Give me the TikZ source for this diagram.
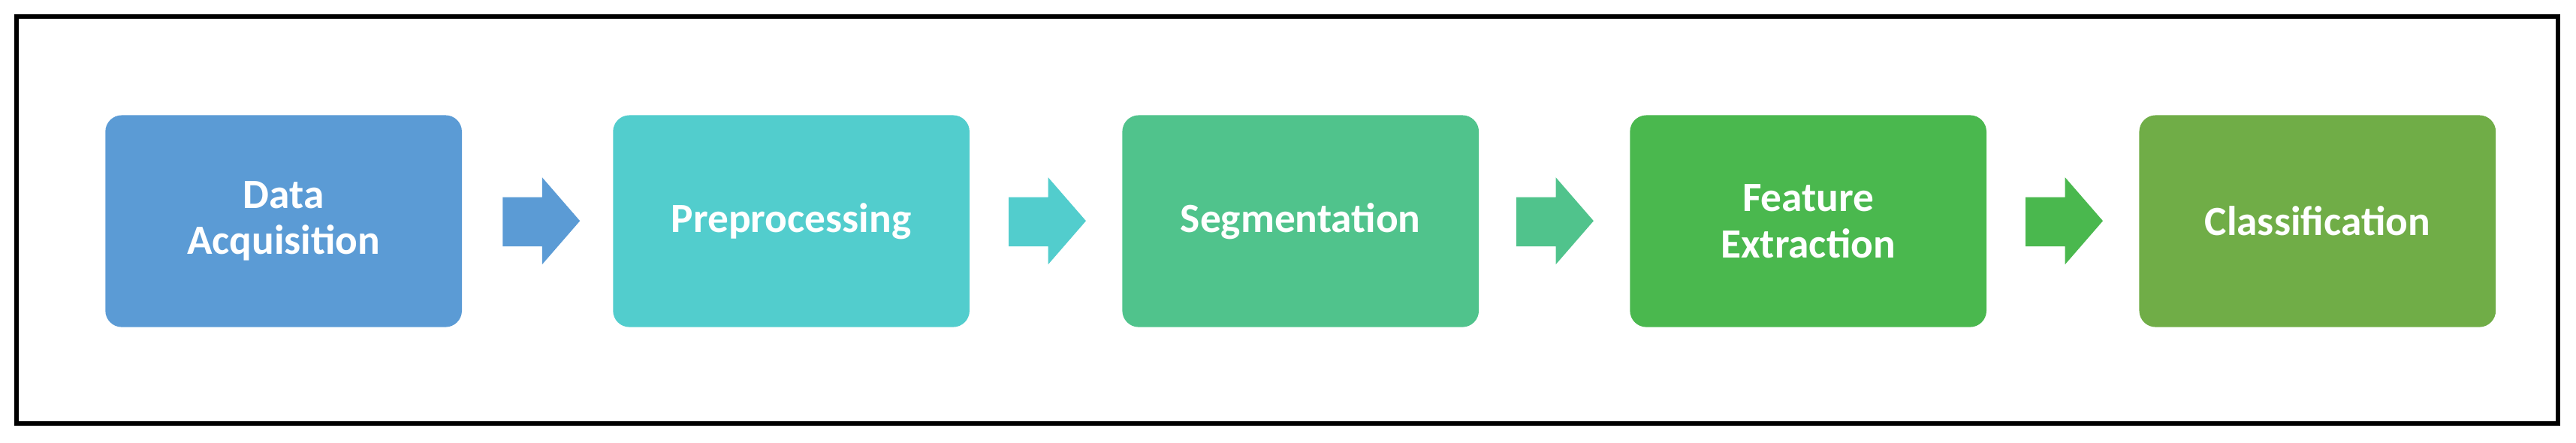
\documentclass[tikz,border=0pt]{standalone}
\usepackage{fontspec}
\setmainfont{Carlito}
\definecolor{c1}{RGB}{91,155,213}
\definecolor{c2}{RGB}{82,205,205}
\definecolor{c3}{RGB}{80,195,140}
\definecolor{c4}{RGB}{74,184,78}
\definecolor{c5}{RGB}{112,173,71}
\begin{document}
\begin{tikzpicture}[x=0.5mm,y=-0.5mm,
  box/.style={rounded corners=5mm,minimum width=108.5mm,minimum height=64.5mm,text=white,font=\fontsize{36}{40}\selectfont\bfseries,align=center,anchor=north west,inner sep=0pt},
  arr/.style={fill=#1}]
\useasboundingbox (0,0) rectangle (1568,269.7);
\draw[line width=4pt] (10,10) rectangle (1557,258);
\node[box,fill=c1] (b1) at (64,70) {Data\\Acquisition};
\node[box,fill=c2] (b2) at (373,70) {Preprocessing};
\node[box,fill=c3] (b3) at (683,70) {Segmentation};
\node[box,fill=c4] (b4) at (992,70) {Feature\\Extraction};
\node[box,fill=c5] (b5) at (1302,70) {Classification};
\foreach \x/\c in {306/c1,614/c2,923/c3,1233/c4}
  \fill[\c] (\x,120) -- (\x+24,120) -- (\x+24,108) -- (\x+47,134.5) -- (\x+24,161) -- (\x+24,150) -- (\x,150) -- cycle;
\end{tikzpicture}
\end{document}
